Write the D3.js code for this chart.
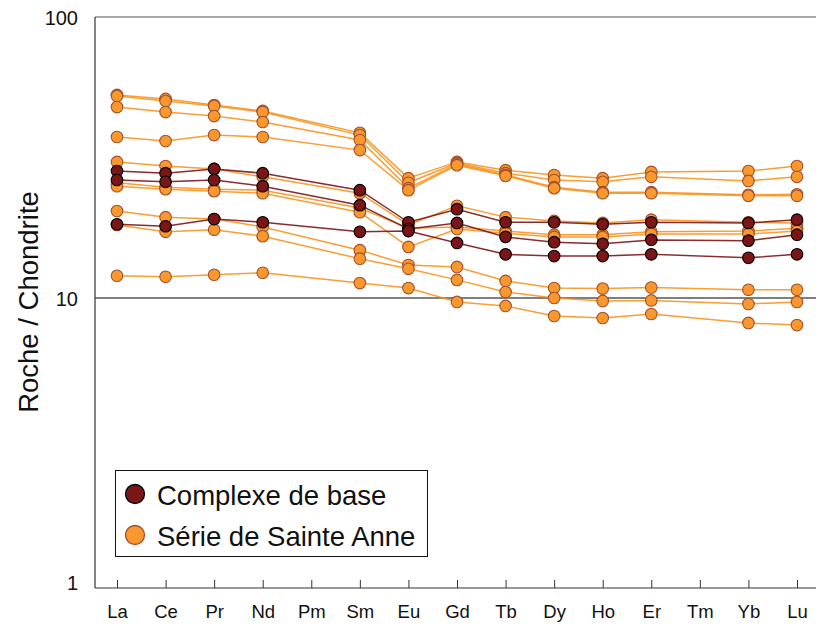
<!DOCTYPE html>
<html><head><meta charset="utf-8">
<script src="https://cdn.jsdelivr.net/npm/d3@7"></script>
<style>body{margin:0;background:#fff}svg{display:block}text{font-family:"Liberation Sans",Arial,sans-serif}</style>
</head><body><svg id="c" width="816" height="626"></svg>
<script>
const categories = ["La","Ce","Pr","Nd","Pm","Sm","Eu","Gd","Tb","Dy","Ho","Er","Tm","Yb","Lu"];
const yTicks = [1, 10, 100];
const groupNames = ["Complexe de base", "Série de Sainte Anne"];

// Série de Sainte Anne (orange)
const sainteAnne = [
  [52.8,51.1,48.6,46.3,null,38.7,26.7,30.5,28.5,27.4,26.7,28.1,null,28.3,29.5],
  [52.3,50.2,48.2,45.9,null,38.0,25.7,30.2,27.8,26.3,25.9,27.0,null,26.1,27.0],
  [47.8,45.9,44.4,42.3,null,36.5,24.6,30.0,27.4,24.8,23.8,23.8,null,23.3,23.4],
  [37.4,36.2,38.0,37.4,null,33.6,24.2,29.7,27.2,24.6,23.6,23.6,null,23.1,23.1],
  [30.5,29.5,28.8,27.0,null,23.6,18.2,21.3,19.4,18.8,18.5,19.0,null,18.6,18.5],
  [25.7,24.8,24.4,24.2,null,20.9,17.7,17.9,17.3,16.8,16.8,17.2,null,17.3,17.7],
  [25.0,24.4,24.0,23.6,null,20.2,15.2,17.6,17.0,16.5,16.5,16.9,null,16.9,17.3],
  [20.4,19.4,19.1,17.9,null,14.8,13.1,12.9,11.5,10.85,10.8,10.9,null,10.7,10.7],
  [18.2,17.2,17.5,16.6,null,13.8,12.7,11.6,10.5,10.0,9.76,9.8,null,9.52,9.68],
  [12.0,11.9,12.1,12.3,null,11.3,10.85,9.68,9.37,8.63,8.49,8.77,null,8.15,8.01]
];
// Complexe de base (dark red)
const complexe = [
  [28.3,27.8,28.8,27.8,null,24.2,18.6,20.7,18.6,18.6,18.3,18.6,null,18.5,19.0],
  [26.3,25.9,26.3,25.0,null,21.4,17.6,18.5,16.5,15.8,15.6,16.1,null,16.0,16.8],
  [18.3,18.0,19.1,18.6,null,17.2,17.3,15.7,14.3,14.1,14.1,14.3,null,13.9,14.3]
];

const svg = d3.select("#c");
const x = d3.scalePoint().domain(categories).range([117, 797]);
const y = d3.scaleLog().domain([1, 100]).range([579, 17]);
const axisY = 588, leftX = 95, rightX = 816;

// horizontal decade lines
svg.append("line").attr("x1", leftX).attr("x2", rightX).attr("y1", y(100)).attr("y2", y(100))
  .attr("stroke", "#555").attr("stroke-width", 1);
svg.append("line").attr("x1", leftX).attr("x2", rightX).attr("y1", y(10)).attr("y2", y(10))
  .attr("stroke", "#000").attr("stroke-width", 1.2);

// y axis line
svg.append("line").attr("x1", leftX).attr("x2", leftX).attr("y1", y(100)).attr("y2", axisY)
  .attr("stroke", "#333").attr("stroke-width", 1.2);
// y tick labels
svg.selectAll(".yl").data(yTicks).enter().append("text")
  .attr("x", 78).attr("y", d => y(d) + (d === 1 ? 4 : 1)).attr("dy", "0.35em")
  .attr("text-anchor", "end").attr("font-size", 20).attr("fill", "#111").text(d => d);

// x axis
const xAxis = d3.axisBottom(x).tickSize(-8).tickPadding(17).tickSizeOuter(0);
const gx = svg.append("g").attr("transform", `translate(0,${axisY})`).call(xAxis);
gx.select(".domain").remove();
gx.append("line").attr("x1", leftX).attr("x2", rightX).attr("y1", 0).attr("y2", 0)
  .attr("stroke", "#333").attr("stroke-width", 1.2);
gx.selectAll(".tick line").attr("stroke", "#333");
gx.selectAll(".tick text").attr("font-size", 18.5).attr("fill", "#111")
  .attr("font-family", "Liberation Sans, Arial, sans-serif");

// y title
svg.append("text").attr("transform", "translate(38,302) rotate(-90)")
  .attr("text-anchor", "middle").attr("font-size", 27.5).attr("fill", "#111").text("Roche / Chondrite");

const line = d3.line().defined(d => d.v != null).x(d => x(d.c)).y(d => y(d.v));
function draw(seriesList, lineColor, fill, stroke, lineW) {
  const g = svg.append("g");
  seriesList.forEach(s => {
    const pts = s.map((v, i) => ({c: categories[i], v})).filter(d => d.v != null);
    g.append("path").datum(pts).attr("d", line).attr("fill", "none")
      .attr("stroke", lineColor).attr("stroke-width", lineW).attr("opacity", 0.9);
  });
  seriesList.forEach(s => {
    const pts = s.map((v, i) => ({c: categories[i], v})).filter(d => d.v != null);
    g.selectAll(null).data(pts).enter().append("circle")
      .attr("cx", d => x(d.c)).attr("cy", d => y(d.v)).attr("r", 5.8)
      .attr("fill", fill).attr("stroke", stroke).attr("stroke-width", 1.1);
  });
}
draw(sainteAnne, "#f7931e", "#f8982f", "#a4502a", 1.5);
draw(complexe, "#7a1518", "#7a1518", "#000", 1.5);

// legend
const lg = svg.append("g");
lg.append("rect").attr("x", 115.5).attr("y", 470.5).attr("width", 312).attr("height", 86)
  .attr("fill", "#fff").attr("stroke", "#111").attr("stroke-width", 1);
const legendStyle = [{fill: "#7a1518", stroke: "#000"}, {fill: "#f8982f", stroke: "#a4502a"}];
groupNames.forEach((n, i) => {
  const cy = 494 + i * 41;
  lg.append("circle").attr("cx", 135).attr("cy", cy).attr("r", 9.5)
    .attr("fill", legendStyle[i].fill).attr("stroke", legendStyle[i].stroke).attr("stroke-width", 1.3);
  lg.append("text").attr("x", 157).attr("y", cy + 1).attr("dy", "0.35em")
    .attr("font-size", 27.5).attr("fill", "#111").text(n);
});
</script></body></html>
